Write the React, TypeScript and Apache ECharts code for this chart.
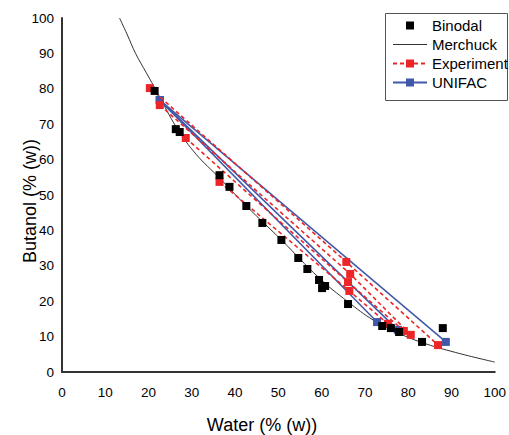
import React, { useEffect, useRef } from 'react';
import * as echarts from 'echarts';

// ---- data ----
const axisMin = 0;
const axisMax = 100;
const axisInterval = 10;

const legendNames = ['Binodal', 'Merchuck', 'Experiment', 'UNIFAC'];

const binodal: [number, number][] = [
  [21.4, 79.4], [26.3, 68.6], [27.2, 67.8], [36.4, 55.6], [38.7, 52.3],
  [42.6, 46.9], [46.3, 42.1], [50.7, 37.3], [54.6, 32.2], [56.7, 29.1],
  [59.4, 26.0], [60.1, 23.7], [60.8, 24.3], [66.1, 19.2], [74.0, 13.0],
  [76.0, 12.4], [77.9, 11.3], [83.2, 8.5], [88.0, 12.4],
];

const merchuck: [number, number][] = [
  [13.3, 100], [15, 95.5], [17, 90], [19.5, 84.5], [22, 79], [26.5, 69],
  [31, 61.5], [36.4, 54.8], [42.6, 46.9], [50.7, 37.3], [59.4, 26.6],
  [66, 19.9], [72, 14.6], [77, 11.4], [83, 8.4], [91, 5.5], [100, 2.8],
];

const experimentTie1: [number, number][] = [[20.3, 80.2], [65.7, 31.1], [86.9, 7.6]];
const experimentTie2: [number, number][] = [[22.6, 75.4], [66.6, 27.7], [80.6, 10.5]];
const experimentTie3: [number, number][] = [[28.6, 66.1], [66.1, 25.4], [79.0, 11.6]];
const experimentTie4: [number, number][] = [[36.4, 53.7], [66.4, 22.9], [75.3, 13.6]];

const unifacTie1: [number, number][] = [[22.6, 76.8], [88.7, 8.5]];
const unifacTie2: [number, number][] = [[22.6, 76.8], [77.6, 11.9]];
const unifacTie3: [number, number][] = [[22.6, 76.8], [72.8, 14.1]];

const xTitle = 'Water (% (w))';
const yTitle = 'Butanol (% (w))';

// ---- styles ----
const FONT = '"Liberation Sans", Arial, Helvetica, sans-serif';
const RED = '#ec2528';
const BLUE = '#3f58a8';
const AXIS = '#333333';

export default function App() {
  const ref = useRef<HTMLDivElement>(null);

  useEffect(() => {
    if (!ref.current) return;
    const chart = echarts.init(ref.current, undefined, { renderer: 'svg' });

    const expSeries = [experimentTie1, experimentTie2, experimentTie3, experimentTie4].map((d) => ({
      type: 'line',
      name: 'Experiment',
      data: d,
      symbol: 'rect',
      symbolSize: 8,
      z: 4,
      lineStyle: { color: RED, width: 1.6, type: [4, 3] },
      itemStyle: { color: RED },
    }));

    const unifacSeries = [unifacTie1, unifacTie2, unifacTie3].map((d) => ({
      type: 'line',
      name: 'UNIFAC',
      data: d,
      symbol: 'rect',
      symbolSize: 8,
      z: 3,
      lineStyle: { color: BLUE, width: 1.5 },
      itemStyle: { color: BLUE },
    }));

    const axisCommon = {
      type: 'value',
      min: axisMin,
      max: axisMax,
      interval: axisInterval,
      axisLine: { show: true, lineStyle: { color: AXIS, width: 2 } },
      axisTick: { show: false },
      splitLine: { show: false },
    };

    chart.setOption({
      animation: false,
      backgroundColor: '#ffffff',
      grid: { left: 62, right: 13, top: 18, bottom: 63, containLabel: false },
      xAxis: {
        ...axisCommon,
        axisLabel: { fontSize: 13.5, color: '#000', fontFamily: FONT, margin: 13 },
      },
      yAxis: {
        ...axisCommon,
        axisLabel: { fontSize: 13.5, color: '#000', fontFamily: FONT, margin: 8 },
      },
      legend: {
        data: legendNames.map((n) =>
          n === 'Merchuck' ? { name: n, icon: 'path://M0,0h34v1.2h-34z' } : { name: n }
        ),
        orient: 'vertical',
        left: 385,
        top: 13,
        itemWidth: 34,
        itemHeight: 10,
        itemGap: 0,
        padding: [3, 0, 8, 7],
        borderWidth: 0,
        selectedMode: false,
        textStyle: { fontSize: 15, color: '#000', fontFamily: FONT, lineHeight: 19 },
      },
      graphic: [
        {
          type: 'rect',
          z: 1,
          shape: { x: 385.5, y: 13.5, width: 122, height: 87 },
          style: { fill: '#fff', stroke: '#555', lineWidth: 1 },
        },
        {
          type: 'text',
          x: 262,
          y: 425,
          style: {
            text: xTitle,
            align: 'center',
            verticalAlign: 'middle',
            fontSize: 18,
            fontFamily: FONT,
            fill: '#000',
          },
        },
        {
          type: 'text',
          x: 30,
          y: 201,
          rotation: Math.PI / 2,
          style: {
            text: yTitle,
            align: 'center',
            verticalAlign: 'middle',
            fontSize: 18,
            fontFamily: FONT,
            fill: '#000',
          },
        },
      ],
      series: [
        {
          type: 'line',
          name: 'Merchuck',
          data: merchuck,
          smooth: 0.4,
          symbol: 'none',
          showSymbol: false,
          z: 2,
          lineStyle: { color: AXIS, width: 1 },
          itemStyle: { color: AXIS },
        },
        ...unifacSeries,
        ...expSeries,
        {
          type: 'line',
          name: 'Binodal',
          data: binodal,
          symbol: 'rect',
          symbolSize: 8,
          z: 5,
          lineStyle: { width: 0, opacity: 0 },
          itemStyle: { color: '#000' },
        },
      ],
    });

    return () => chart.dispose();
  }, []);

  return (
    <div
      ref={ref}
      style={{ position: 'fixed', left: 0, top: 0, width: 509, height: 435 }}
    />
  );
}
